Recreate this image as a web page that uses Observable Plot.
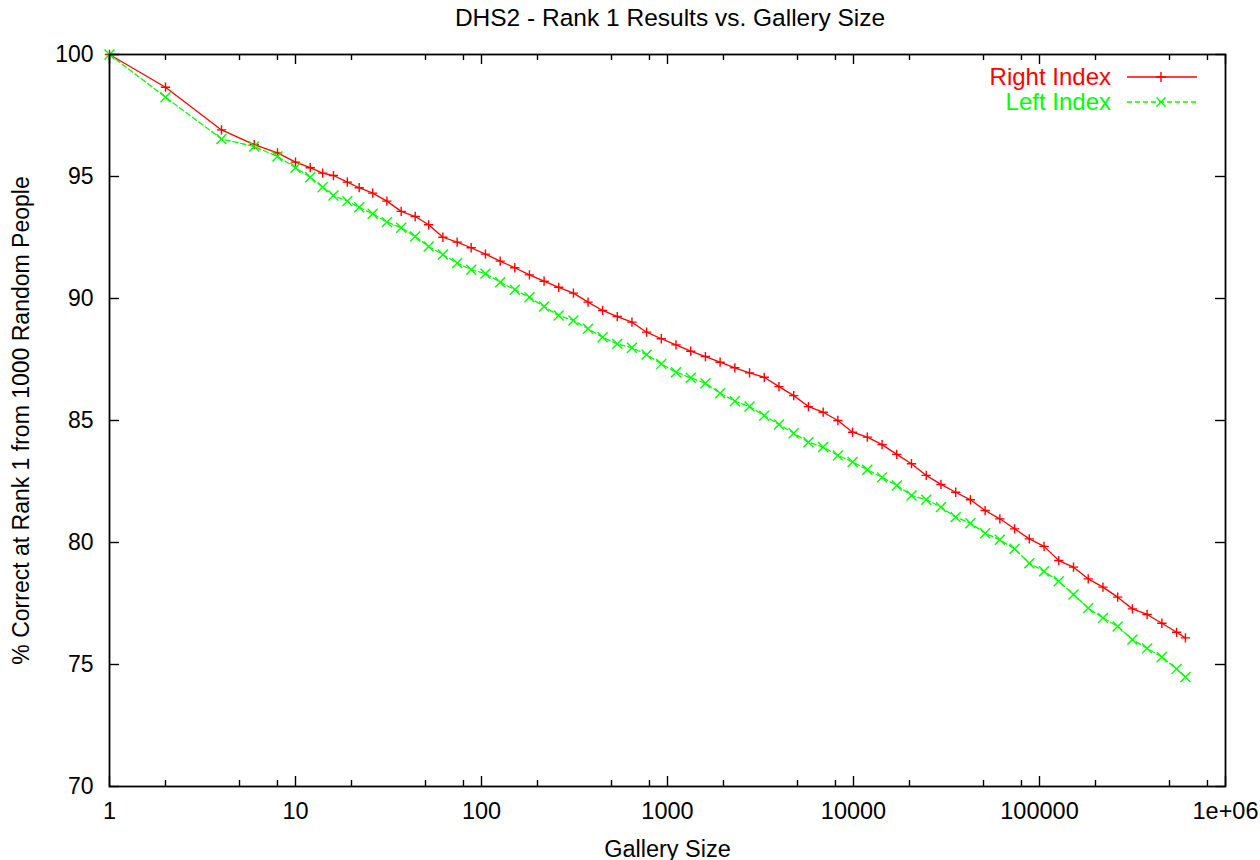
<!DOCTYPE html>
<html>
<head>
<meta charset="utf-8">
<script src="https://cdn.jsdelivr.net/npm/d3@7"></script>
<script src="https://cdn.jsdelivr.net/npm/@observablehq/plot@0.6"></script>
<style>
html, body { margin: 0; padding: 0; background: #fff; overflow: hidden; width: 1260px; height: 860px; }
#wrap { position: relative; width: 1260px; height: 860px; font-family: "Liberation Sans", Arial, sans-serif; overflow: hidden; }
#title { position: absolute; left: 0; top: 0; width: 1260px; height: 40px; box-sizing: border-box; padding-left: 80px; text-align: center; font-size: 24.5px; line-height: 36px; color: #000; }
#chart { position: absolute; left: 0; top: 40px; }
#legend { position: absolute; right: 0; top: 63px; width: 300px; }
.lrow { position: relative; height: 25px; }
.lrow span { position: absolute; right: 149px; top: 0; font-size: 24px; line-height: 28px; }
.lrow svg { position: absolute; left: 164px; top: 2px; }
</style>
</head>
<body>
<div id="wrap">
  <div id="title">DHS2 - Rank 1 Results vs. Gallery Size</div>
  <div id="chart"></div>
  <div id="legend"></div>
</div>
<script>
// ---- data ----
const gallerySizes = [1,2,4,6,8,10,12,14,16,19,
  22,26,31,37,44,52,62,74,88,105,
  126,151,181,217,260,312,374,448,537,644,
  772,926,1111,1333,1599,1918,2301,2761,3313,3975,
  4770,5724,6868,8241,9889,11866,14239,17086,20503,24603,
  29523,35427,42512,51014,61216,73459,88150,105780,126936,152323,
  182787,219344,263212,315854,379024,454828,545793,609000];
const rightIndex = [100,98.66,96.91,96.31,95.97,95.59,95.36,95.14,95.04,94.77,
  94.54,94.32,93.99,93.57,93.36,93.02,92.51,92.31,92.08,91.82,
  91.53,91.26,90.97,90.71,90.46,90.22,89.85,89.51,89.26,89.03,
  88.62,88.35,88.10,87.84,87.62,87.39,87.16,86.95,86.77,86.39,
  86.02,85.57,85.34,85.00,84.52,84.32,84.01,83.61,83.23,82.75,
  82.38,82.06,81.75,81.31,80.97,80.56,80.15,79.84,79.26,78.99,
  78.51,78.17,77.76,77.28,77.05,76.69,76.32,76.09];
const leftIndex = [100,98.25,96.54,96.23,95.82,95.36,94.97,94.56,94.22,93.99,
  93.74,93.47,93.13,92.90,92.54,92.13,91.80,91.45,91.18,91.02,
  90.67,90.36,90.05,89.67,89.30,89.10,88.76,88.41,88.14,87.98,
  87.70,87.32,86.98,86.75,86.53,86.12,85.79,85.57,85.20,84.84,
  84.48,84.11,83.91,83.57,83.30,82.98,82.67,82.34,81.93,81.75,
  81.45,81.04,80.79,80.38,80.11,79.74,79.15,78.82,78.41,77.87,
  77.31,76.91,76.56,76.02,75.66,75.31,74.82,74.49];

const seriesNames = ["Right Index", "Left Index"];
const seriesColors = ["#ff0000", "#00ff00"];

const xTickValues = [1, 10, 100, 1000, 10000, 100000, 1000000];
const xTickLabels = ["1", "10", "100", "1000", "10000", "100000", "1e+06"];
const xMinorTicks = [2,5,8,20,50,80,200,500,800,2000,5000,8000,20000,50000,80000,200000,500000,800000];
const yTickValues = [70, 75, 80, 85, 90, 95, 100];

const xLabel = "Gallery Size";
const yLabel = "% Correct at Rank 1 from 1000 Random People";

// ---- build ----
const right = gallerySizes.map((g, i) => ({x: g, y: rightIndex[i]}));
const left = gallerySizes.map((g, i) => ({x: g, y: leftIndex[i]}));
const labelOf = new Map(xTickValues.map((v, i) => [v, xTickLabels[i]]));

const W = 1260, H = 820, mT = 14, mB = 74, mL = 109, mR = 35;
const plotH = H - mT - mB, plotW = W - mL - mR;
const majorLen = 10, minorLen = 6;

const chart = Plot.plot({
  width: W, height: H,
  marginTop: mT, marginBottom: mB, marginLeft: mL, marginRight: mR,
  style: {fontFamily: "'Liberation Sans', Arial, sans-serif", fontSize: "24.5px", background: "white", overflow: "visible", color: "black"},
  x: {type: "log", domain: [1, 1e6]},
  y: {domain: [70, 100]},
  marks: [
    // inward ticks (bottom & top mirror)
    Plot.ruleX(xTickValues, {insetTop: plotH - majorLen, stroke: "black", strokeWidth: 1.4}),
    Plot.ruleX(xTickValues, {insetBottom: plotH - majorLen, stroke: "black", strokeWidth: 1.4}),
    Plot.ruleX(xMinorTicks, {insetTop: plotH - minorLen, stroke: "black", strokeWidth: 1.4}),
    Plot.ruleX(xMinorTicks, {insetBottom: plotH - minorLen, stroke: "black", strokeWidth: 1.4}),
    // inward ticks (left & right mirror)
    Plot.ruleY(yTickValues, {insetRight: plotW - majorLen, stroke: "black", strokeWidth: 1.4}),
    Plot.ruleY(yTickValues, {insetLeft: plotW - majorLen, stroke: "black", strokeWidth: 1.4}),
    Plot.axisX({ticks: xTickValues, tickFormat: d => labelOf.get(d), tickSize: 0, tickPadding: 16,
      fontSize: 23.5, label: xLabel, labelAnchor: "center", labelArrow: "none", labelOffset: 70}),
    Plot.axisY({ticks: yTickValues, tickSize: 0, tickPadding: 16, fontSize: 23,
      label: yLabel, labelAnchor: "center", labelArrow: "none", labelOffset: 97}),
    // series
    Plot.line(right, {x: "x", y: "y", stroke: seriesColors[0], strokeWidth: 1.3}),
    Plot.dot(right, {x: "x", y: "y", symbol: "plus", r: 3.1, stroke: seriesColors[0], strokeWidth: 1.4}),
    Plot.line(left, {x: "x", y: "y", stroke: seriesColors[1], strokeWidth: 1.3, strokeDasharray: "5,3"}),
    Plot.dot(left, {x: "x", y: "y", symbol: "times", r: 4.6, stroke: seriesColors[1], strokeWidth: 1.4}),
    Plot.frame({stroke: "black", strokeWidth: 1.8})
  ]
});
document.getElementById("chart").appendChild(chart);

// ---- legend (top-right, inside the frame) ----
const legend = document.getElementById("legend");
const symbolPaths = ["M-5,0H5M0,-5V5", "M-4.5,-4.5L4.5,4.5M-4.5,4.5L4.5,-4.5"];
seriesNames.forEach((name, i) => {
  const row = document.createElement("div");
  row.className = "lrow";
  const dash = i === 1 ? ' stroke-dasharray="5,3"' : '';
  row.innerHTML = `<span style="color:${seriesColors[i]}">${name}</span>` +
    `<svg width="76" height="24" viewBox="-3 -12 76 24"><line x1="0" y1="0" x2="70" y2="0" stroke="${seriesColors[i]}" stroke-width="1.3"${dash}/>` +
    `<path transform="translate(34,0)" d="${symbolPaths[i]}" stroke="${seriesColors[i]}" stroke-width="1.4" fill="none"/></svg>`;
  legend.appendChild(row);
});
</script>
</body>
</html>
